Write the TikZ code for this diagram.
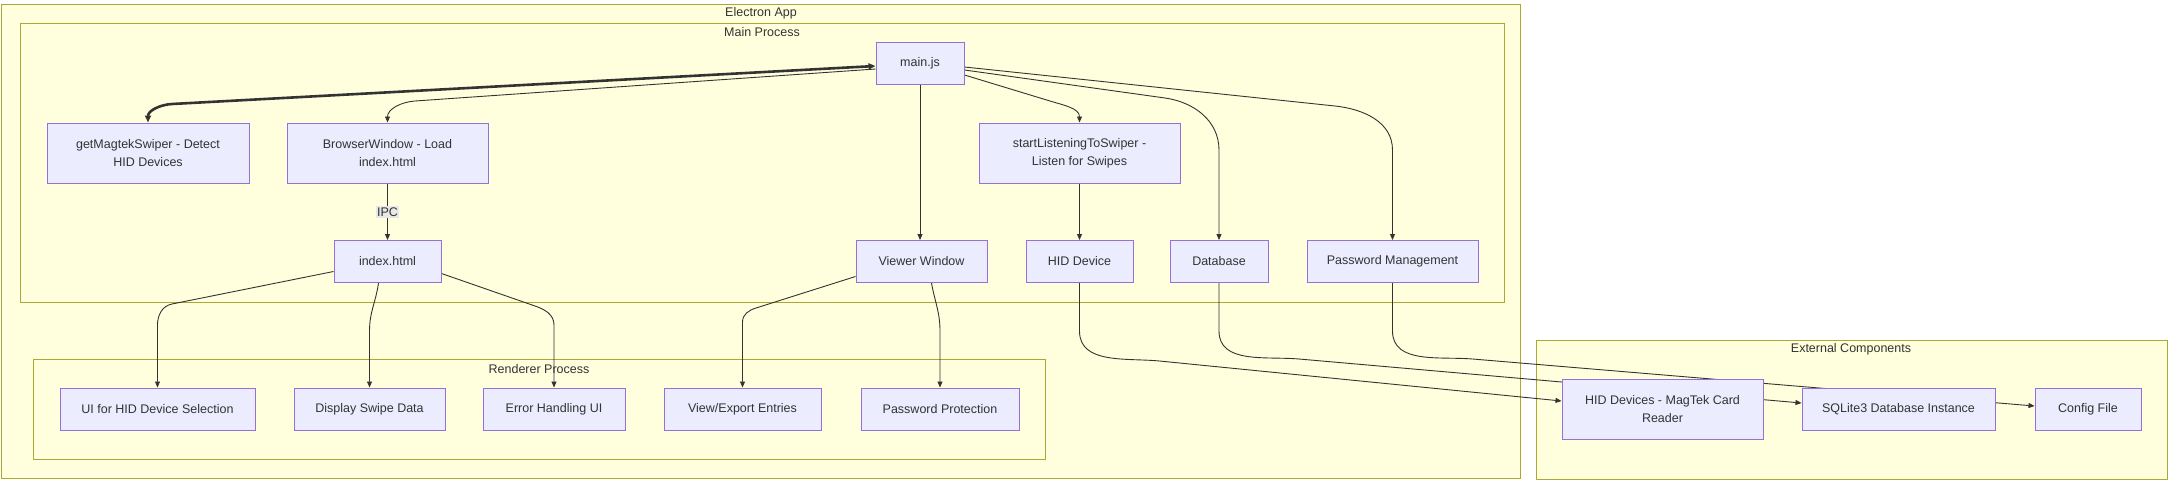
\documentclass[tikz,border=0pt]{standalone}
\usepackage{fontspec}
\setmainfont{Liberation Sans}
\usetikzlibrary{arrows.meta}
\definecolor{nodefill}{HTML}{ECECFF}
\definecolor{nodeline}{HTML}{9370DB}
\definecolor{groupfill}{HTML}{FFFFDE}
\definecolor{groupline}{HTML}{AAAA33}
\definecolor{ink}{HTML}{333333}
\definecolor{labelfill}{HTML}{E8E8E8}
\pgfdeclarelayer{background}
\pgfdeclarelayer{edges}
\pgfsetlayers{background,edges,main}
\tikzset{
  box/.style={draw=nodeline, fill=nodefill, line width=1pt, minimum height=42, inner sep=0pt, text=ink, align=center, font=\fontsize{12.5}{18}\selectfont},
  tallbox/.style={box, minimum height=60},
  group/.style={draw=groupline, fill=groupfill, line width=1pt},
  grouptitle/.style={text=ink, inner sep=0pt, font=\fontsize{12.5}{18}\selectfont},
  link/.style={draw=ink, line width=0.9pt, -{Triangle[length=6pt,width=5pt]}},
  boldlink/.style={draw=ink, line width=2.6pt, {Triangle[length=7pt,width=6pt]}-{Triangle[length=7pt,width=6pt]}},
  ipc/.style={fill=labelfill, text=ink, inner sep=1.5pt, font=\fontsize{12.5}{14}\selectfont}
}
\begin{document}
\begin{tikzpicture}[x=1pt, y=-1pt]
    \useasboundingbox (0,0) rectangle (2172,480);
    \begin{pgfonlayer}{background}
    \fill[white] (0,0) rectangle (2172,480);
    \draw[group] (1,4) rectangle (1520,478);
    \draw[group] (20,23) rectangle (1504,302);
    \draw[group] (33,359) rectangle (1045,459);
    \draw[group] (1536,340) rectangle (2167,479);
    \end{pgfonlayer}
    \node[grouptitle] (apptitle) at (761,13) {Electron App};
    \node[grouptitle] (maintitle) at (762,32) {Main Process};
    \node[grouptitle] (rendertitle) at (539,369) {Renderer Process};
    \node[grouptitle] (externaltitle) at (1851,349) {External Components};

    \node[box, minimum width=88] (mainjs) at (920,63) {main.js};
    \node[tallbox, minimum width=202] (swiper) at (148,153) {getMagtekSwiper - Detect\\HID Devices};
    \node[tallbox, minimum width=201] (browser) at (387.5,153) {BrowserWindow - Load\\index.html};
    \node[tallbox, minimum width=201] (listen) at (1079.5,153) {startListeningToSwiper -\\Listen for Swipes};
    \node[box, minimum width=107] (index) at (387.5,261.5) {index.html};
    \node[box, minimum width=131] (viewer) at (921.5,261.5) {Viewer Window};
    \node[box, minimum width=107] (hiddev) at (1079.5,261.5) {HID Device};
    \node[box, minimum width=98] (database) at (1219,261.5) {Database};
    \node[box, minimum width=171] (password) at (1392.5,261.5) {Password Management};
    \node[box, minimum width=195] (hidui) at (157.5,409) {UI for HID Device Selection};
    \node[box, minimum width=151] (swipedata) at (369.5,409) {Display Swipe Data};
    \node[box, minimum width=142] (errorui) at (554,409) {Error Handling UI};
    \node[box, minimum width=157] (export) at (742.5,409) {View/Export Entries};
    \node[box, minimum width=158] (protect) at (940,409) {Password Protection};
    \node[tallbox, minimum width=201] (magtek) at (1662.5,409) {HID Devices - MagTek Card\\Reader};
    \node[box, minimum width=193] (sqlite) at (1898.5,409) {SQLite3 Database Instance};
    \node[box, minimum width=106] (config) at (2088,409) {Config File};

    \begin{pgfonlayer}{edges}
    \draw[boldlink] ([yshift=-3pt]mainjs.west) -- (172,104) to[out=183,in=90] (swiper.north);
    \draw[link] ([yshift=-6pt]mainjs.west) -- (415,101) to[out=184,in=90] (browser.north);
    \draw[link] (mainjs.south) -- (mainjs.south |- viewer.north);
    \draw[link] ([yshift=-12pt]mainjs.east) -- (1050,101) to[out=-17,in=90] (listen.north);
    \draw[link] ([yshift=-7pt]mainjs.east) -- (1165,98) to[out=-8,in=90] ++(54,52) -- (database.north);
    \draw[link] ([yshift=-4pt]mainjs.east) -- (1335,106) to[out=-6,in=90] ++(57.5,44) -- (password.north);
    \draw[link] (browser) -- node[ipc] (ipclabel) {IPC} (index);
    \draw[link] (listen) -- (hiddev);
    \draw[link] ([yshift=-10pt]index.west) -- (172,304) to[out=-169,in=90] ++(-14.5,21) -- (hidui.north);
    \draw[link] ([xshift=-9pt]index.south) to[out=-98,in=90] ++(-9,48) -- (swipedata.north);
    \draw[link] ([yshift=-12pt]index.east) -- (535,306) to[out=-19,in=90] ++(19,19) -- (errorui.north);
    \draw[link] ([yshift=-15pt]viewer.west) -- (756,308) to[out=-163,in=90] ++(-13.5,14) -- (export.north);
    \draw[link] ([xshift=10pt]viewer.south) to[out=-80,in=90] ++(8.5,48) -- (protect.north);
    \draw[link] (hiddev.south) -- ++(0,48) to[out=-90,in=174.5] ++(80,30) -- ([yshift=8pt]magtek.west);
    \draw[link] (database.south) -- ++(0,48) to[out=-90,in=175] ++(80,28) -- ([yshift=6pt]sqlite.west);
    \draw[link] (password.south) -- ++(0,48) to[out=-90,in=175.3] ++(80,28) -- ([yshift=3pt]config.west);
    \end{pgfonlayer}
\end{tikzpicture}
\end{document}
